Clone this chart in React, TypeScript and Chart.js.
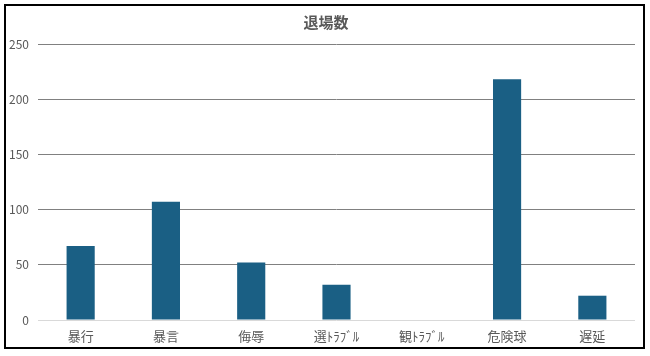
import React, { useEffect, useRef } from "react";
import { Chart, registerables } from "chart.js";

Chart.register(...registerables);

const categories = ["暴行", "暴言", "侮辱", "選ﾄﾗﾌﾞﾙ", "観ﾄﾗﾌﾞﾙ", "危険球", "遅延"];
const counts = [67, 107, 52, 32, 0, 218, 22];
const chartTitle = "退場数";
const yMax = 250;
const yStep = 50;

const FONT = "'Noto Sans CJK JP', 'Liberation Sans', sans-serif";

const centerTitle = {
  id: "centerTitle",
  afterLayout(chart: any) {
    const t = chart.titleBlock;
    if (t) {
      t.left = 17;
      t.right = 635;
    }
  },
};

export default function App() {
  const ref = useRef<HTMLCanvasElement | null>(null);

  useEffect(() => {
    document.body.style.margin = "0";
    const canvas = ref.current!;
    const chart = new Chart(canvas, {
      type: "bar",
      data: {
        labels: categories,
        datasets: [
          {
            label: chartTitle,
            data: counts,
            backgroundColor: "#1a5f84",
            borderWidth: 0,
            categoryPercentage: 1,
            barPercentage: 0.33,
          },
        ],
      },
      plugins: [centerTitle],
      options: {
        animation: false,
        responsive: false,
        layout: { padding: { left: 0, right: 15, top: 0, bottom: 0 } },
        plugins: {
          legend: { display: false },
          tooltip: { enabled: false },
          title: {
            display: true,
            text: chartTitle,
            color: "#595959",
            font: { family: FONT, size: 15, weight: "bold", lineHeight: 1.2 },
            padding: { top: 13, bottom: 13 },
          },
        },
        scales: {
          x: {
            grid: { display: false, drawTicks: false },
            border: { display: false },
            ticks: {
              color: "#595959",
              font: { family: FONT, size: 13 },
              padding: 8,
              maxRotation: 0,
              autoSkip: false,
            },
            afterFit: (s: any) => {
              s.height = 36;
            },
          },
          y: {
            min: 0,
            max: yMax,
            grid: {
              drawTicks: false,
              lineWidth: 1,
              color: (ctx: any) => (ctx.tick && ctx.tick.value === 0 ? "#d9d9d9" : "#808080"),
            },
            border: { display: false },
            ticks: {
              stepSize: yStep,
              color: "#595959",
              font: { family: FONT, size: 12 },
              padding: 9,
            },
            afterFit: (s: any) => {
              s.width = 38;
            },
          },
        },
      },
    });
    return () => chart.destroy();
  }, []);

  return (
    <div style={{ position: "relative", width: 650, height: 356, background: "#fff" }}>
      <canvas ref={ref} width={650} height={356} style={{ position: "absolute", left: 0, top: 0 }} />
      <div
        style={{
          position: "absolute",
          left: 4,
          top: 4,
          width: 641,
          height: 345,
          border: "2px solid #000",
          boxSizing: "border-box",
          pointerEvents: "none",
        }}
      />
    </div>
  );
}
